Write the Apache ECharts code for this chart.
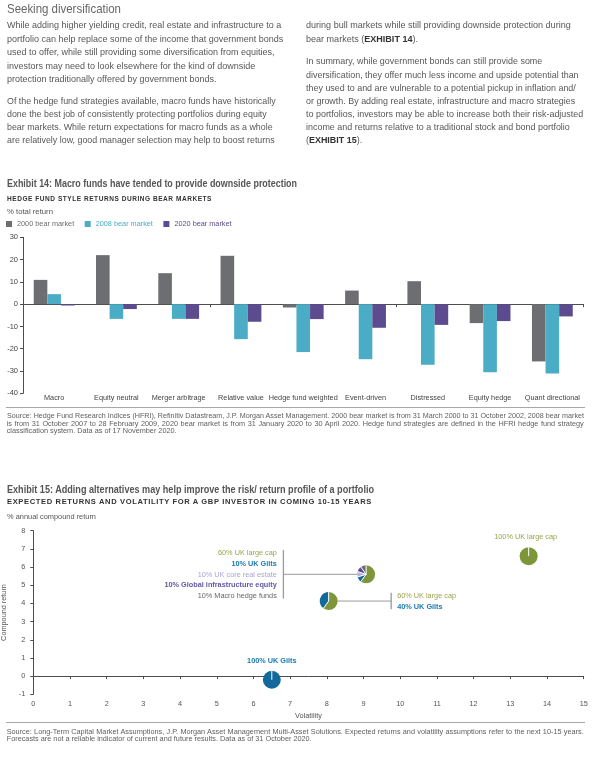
<!DOCTYPE html>
<html>
<head>
<meta charset="utf-8">
<script src="https://cdn.jsdelivr.net/npm/echarts@6/dist/echarts.min.js"></script>
<style>
html,body{margin:0;padding:0;background:#fff;}
body{width:602px;height:759px;position:relative;overflow:hidden;font-family:'Liberation Sans',Arial,sans-serif;}
#chart{position:absolute;left:0;top:0;width:602px;height:759px;z-index:1;}
.t{position:absolute;white-space:nowrap;z-index:2;}
.t span{display:inline-block;transform-origin:0 50%;white-space:nowrap;}
.rule{position:absolute;left:6px;width:579px;height:1.5px;background:#a8a8a8;z-index:2;}
</style>
</head>
<body>
<div id="chart"></div>
<div class="rule" style="top:406.6px"></div>
<div class="rule" style="top:721.8px"></div>
<script>
// ---------- DATA: Exhibit 14 ----------
const categories = ['Macro','Equity neutral','Merger arbitrage','Relative value','Hedge fund weighted','Event-driven','Distressed','Equity hedge','Quant directional'];
const seriesNames = ['2000 bear market','2008 bear market','2020 bear market'];
const bear2000 = [10.9, 22.0, 13.9, 21.7, -1.5, 6.1, 10.3, -8.5, -25.7];
const bear2008 = [4.5, -6.6, -6.6, -15.7, -21.5, -24.7, -27.2, -30.5, -31.1];
const bear2020 = [-0.6, -2.2, -6.6, -7.9, -6.7, -10.6, -9.3, -7.6, -5.5];

// ---------- DATA: Exhibit 15 ----------
const portfolios = ['100% UK Gilts','100% UK large cap','60/40 portfolio','Diversified portfolio'];
const volatility = [6.5, 13.5, 8.05, 9.07];
const compoundReturn = [-0.2, 6.6, 4.13, 5.6];
const assetClasses = ['UK large cap','UK Gilts','UK core real estate','Global infrastructure equity','Macro hedge funds'];
const wUKLargeCap = [0, 100, 60, 60];
const wUKGilts = [100, 0, 40, 10];
const wRealEstate = [0, 0, 0, 10];
const wInfra = [0, 0, 0, 10];
const wMacroHF = [0, 0, 0, 10];

// ---------- STYLE ----------
const FONT = "'Liberation Sans',Arial,sans-serif";
const barColors = ['#6d6e71','#4bacc6','#5c4b8e'];
const assetColors = ['#7e9639','#12699b','#b8b2dd','#5a4a9b','#6d6e71'];
const assetTextColors = ['#9ba34a','#1b7ab3','#ada4d4','#6656a6','#666666'];
const assetTextWeight = ['normal','bold','normal','bold','normal'];
const annot = [
  {mode:'above', dx:0, dy:-19},
  {mode:'above', dx:-3, dy:-19},
  {mode:'right', bx:62.5, bh:8.3, tx:68.5, gap:11, oy:0.6},
  {mode:'left', bx:-82.7, bh:24.2, tx:-89.3, gap:10.85, oy:0.2}
];

// ---------- HTML TEXT ----------
function addText(lines, o){
  let f = null;
  lines.forEach((html, j) => {
    const d = document.createElement('div');
    d.className = 't';
    d.style.left = o.x + 'px';
    d.style.top = (o.y + j*o.lh - o.lh/2) + 'px';
    d.style.height = o.lh + 'px';
    d.style.lineHeight = o.lh + 'px';
    d.style.fontSize = o.size + 'px';
    d.style.color = o.color;
    if (o.weight) d.style.fontWeight = o.weight;
    if (o.ls) d.style.letterSpacing = o.ls + 'px';
    const s = document.createElement('span');
    s.innerHTML = html;
    d.appendChild(s);
    document.body.appendChild(d);
    const w = s.getBoundingClientRect().width;
    if (o.mode === 'scale') {
      if (f === null) f = o.refW / w;
      s.style.transform = 'scaleX(' + f + ')';
    } else if (o.mode === 'exact' || w > o.maxW) {
      s.style.transform = 'scaleX(' + (o.maxW / w) + ')';
    } else if (o.mode === 'justify' && j < lines.length - 1 && w < o.maxW - 1) {
      s.style.width = o.maxW + 'px';
      s.style.whiteSpace = 'normal';
      s.style.textAlign = 'justify';
      s.style.textAlignLast = 'justify';
    }
  });
}

const bodyCol = '#575757';
addText(['Seeking diversification'], {x:6.7, y:9, lh:16, size:13, color:'#666', maxW:114, mode:'exact'});
addText([
  'While adding higher yielding credit, real estate and infrastructure to a',
  'portfolio can help replace some of the income that government bonds',
  'used to offer, while still providing some diversification from equities,',
  'investors may need to look elsewhere for the kind of downside',
  'protection traditionally offered by government bonds.'
], {x:6.7, y:25, lh:13.4, size:9.8, color:bodyCol, refW:274.3, mode:'scale'});
addText([
  'Of the hedge fund strategies available, macro funds have historically',
  'done the best job of consistently protecting portfolios during equity',
  'bear markets. While return expectations for macro funds as a whole',
  'are relatively low, good manager selection may help to boost returns'
], {x:6.7, y:100.7, lh:13.1, size:9.8, color:bodyCol, refW:268.6, mode:'scale'});
addText([
  'during bull markets while still providing downside protection during',
  'bear markets (<b style="color:#333">EXHIBIT 14</b>).'
], {x:306, y:25, lh:13.5, size:9.8, color:bodyCol, refW:264.7, mode:'scale'});
addText([
  'In summary, while government bonds can still provide some',
  'diversification, they offer much less income and upside potential than',
  'they used to and are vulnerable to a potential pickup in inflation and/',
  'or growth. By adding real estate, infrastructure and macro strategies',
  'to portfolios, investors may be able to increase both their risk-adjusted',
  'income and returns relative to a traditional stock and bond portfolio',
  '(<b style="color:#333">EXHIBIT 15</b>).'
], {x:306, y:61, lh:13.17, size:9.8, color:bodyCol, refW:236.3, mode:'scale'});

addText(['Exhibit 14: Macro funds have tended to provide downside protection'], {x:6.7, y:182.7, lh:14, size:10.5, color:'#555', weight:'bold', maxW:290, mode:'exact'});
addText(['HEDGE FUND STYLE RETURNS DURING BEAR MARKETS'], {x:6.7, y:199.3, lh:10, size:7.3, color:'#333', weight:'bold', ls:0.6, maxW:205, mode:'exact'});
addText(['% total return'], {x:6.7, y:212.3, lh:10, size:7.5, color:'#555', maxW:46, mode:'exact'});

addText([
  'Source: Hedge Fund Research Indices (HFRI), Refinitiv Datastream, J.P. Morgan Asset Management. 2000 bear market is from 31 March 2000 to 31 October 2002, 2008 bear market',
  'is from 31 October 2007 to 28 February 2009, 2020 bear market is from 31 January 2020 to 30 April 2020. Hedge fund strategies are defined in the HFRI hedge fund strategy',
  'classification system. Data as of 17 November 2020.'
], {x:6.7, y:416, lh:7.2, size:7.3, color:'#5e5e5e', maxW:577, mode:'justify'});

addText(['Exhibit 15: Adding alternatives may help improve the risk/ return profile of a portfolio'], {x:6.7, y:488.7, lh:14, size:10.5, color:'#555', weight:'bold', maxW:367, mode:'exact'});
addText(['EXPECTED RETURNS AND VOLATILITY FOR A GBP INVESTOR IN COMING 10-15 YEARS'], {x:6.7, y:502.3, lh:10, size:7.3, color:'#333', weight:'bold', ls:0.6, maxW:365, mode:'exact'});
addText(['% annual compound return'], {x:6.7, y:517.3, lh:10, size:7.5, color:'#555', maxW:89, mode:'exact'});

addText([
  'Source: Long-Term Capital Market Assumptions, J.P. Morgan Asset Management Multi-Asset Solutions. Expected returns and volatility assumptions refer to the next 10-15 years.',
  'Forecasts are not a reliable indicator of current and future results. Data as of 31 October 2020.'
], {x:6.7, y:731.4, lh:7.3, size:7.3, color:'#5e5e5e', maxW:577, mode:'justify'});

// ---------- CHART ----------
const chart = echarts.init(document.getElementById('chart'), null, {renderer:'canvas'});
const axisCol = '#4d4d4d';
const labCol = '#444';

function renderPie(params, api){
  const i = params.dataIndex;
  const c = api.coord([api.value(0), api.value(1)]);
  const R = 9;
  const w = [api.value(2), api.value(3), api.value(4), api.value(5), api.value(6)];
  const ch = [];
  const bounds = [];
  let acc = 0;
  w.forEach((v, k) => {
    if (v > 0) {
      const s = -Math.PI/2 + acc/100*2*Math.PI;
      const e = s + v/100*2*Math.PI;
      ch.push({type:'sector', shape:{cx:c[0], cy:c[1], r:R, r0:0, startAngle:s, endAngle:e, clockwise:true}, style:{fill:assetColors[k]}});
      bounds.push(s);
      acc += v;
    }
  });
  bounds.forEach(a => ch.push({type:'line', shape:{x1:c[0], y1:c[1], x2:c[0]+R*Math.cos(a), y2:c[1]+R*Math.sin(a)}, style:{stroke:'#fff', lineWidth:1}}));
  const lines = [];
  w.forEach((v, k) => { if (v > 0) lines.push({text: v + '% ' + assetClasses[k], k:k}); });
  const a = annot[i];
  const txt = (l, x, y, align) => ({type:'text', x:x, y:y, style:{text:l.text, fill:assetTextColors[l.k], fontSize:7.3, fontFamily:FONT, fontWeight:assetTextWeight[l.k], align:align, verticalAlign:'middle'}});
  if (a.mode === 'above') {
    lines.forEach(l => ch.push(txt(l, c[0]+a.dx, c[1]+a.dy, 'center')));
  } else {
    const dir = a.mode === 'right' ? 1 : -1;
    const n = lines.length;
    ch.push({type:'line', shape:{x1:c[0]+dir*R, y1:c[1], x2:c[0]+a.bx, y2:c[1]}, style:{stroke:'#9a9a9a', lineWidth:1}});
    ch.push({type:'line', shape:{x1:c[0]+a.bx, y1:c[1]-a.bh, x2:c[0]+a.bx, y2:c[1]+a.bh}, style:{stroke:'#9a9a9a', lineWidth:1.3}});
    lines.forEach((l, j) => ch.push(txt(l, c[0]+a.tx, c[1]+a.oy+(j-(n-1)/2)*a.gap, dir > 0 ? 'left' : 'right')));
  }
  return {type:'group', children:ch};
}

const pieData = portfolios.map((p, i) => ({name:p, value:[volatility[i], compoundReturn[i], wUKLargeCap[i], wUKGilts[i], wRealEstate[i], wInfra[i], wMacroHF[i]]}));

const option = {
  animation:false,
  textStyle:{fontFamily:FONT},
  legend:{
    left:6, top:220.5, padding:0, itemWidth:6, itemHeight:6, itemGap:10.5, icon:'rect', selectedMode:false,
    textStyle:{fontSize:7.3, fontFamily:FONT},
    data: seriesNames.map((n, k) => ({name:n, textStyle:{color:barColors[k]}}))
  },
  grid:[
    {left:23, top:237.3, width:560.5, height:156, containLabel:false, outerBoundsMode:'none'},
    {left:33.3, top:530.7, width:550.4, height:163.6, containLabel:false, outerBoundsMode:'none'}
  ],
  xAxis:[
    {type:'category', gridIndex:0, data:categories, boundaryGap:true,
     axisLine:{show:true, onZero:true, lineStyle:{color:axisCol, width:1}},
     axisTick:{show:true, length:3, lineStyle:{color:axisCol}},
     axisLabel:{show:false}, splitLine:{show:false}},
    {type:'category', gridIndex:0, data:categories, position:'bottom', boundaryGap:true,
     axisLine:{show:false, onZero:false}, axisTick:{show:false},
     axisLabel:{show:true, interval:0, margin:1, fontSize:7.3, color:labCol, fontFamily:FONT}, splitLine:{show:false}},
    {type:'value', gridIndex:1, min:0, max:15, interval:1,
     axisLine:{show:true, onZero:true, lineStyle:{color:axisCol, width:1}},
     axisTick:{show:true, length:3, lineStyle:{color:axisCol}},
     axisLabel:{show:false}, splitLine:{show:false}},
    {type:'value', gridIndex:1, min:0, max:15, interval:1, position:'bottom',
     axisLine:{show:false, onZero:false}, axisTick:{show:false},
     axisLabel:{show:true, margin:6, fontSize:7.3, color:'#555', fontFamily:FONT}, splitLine:{show:false},
     name:'Volatility', nameLocation:'middle', nameGap:18, nameTextStyle:{fontSize:7.3, color:'#555', fontFamily:FONT}}
  ],
  yAxis:[
    {type:'value', gridIndex:0, min:-40, max:30, interval:10,
     axisLine:{show:true, lineStyle:{color:axisCol, width:1}},
     axisTick:{show:true, length:3, lineStyle:{color:axisCol}},
     axisLabel:{margin:5, fontSize:7.5, color:labCol, fontFamily:FONT}, splitLine:{show:false}},
    {type:'value', gridIndex:1, min:-1, max:8, interval:1,
     axisLine:{show:true, lineStyle:{color:axisCol, width:1}},
     axisTick:{show:true, length:3, lineStyle:{color:axisCol}},
     axisLabel:{margin:8, fontSize:7.3, color:'#555', fontFamily:FONT}, splitLine:{show:false},
     name:'Compound return', nameLocation:'middle', nameGap:18.5, nameTextStyle:{fontSize:7.3, color:'#555', fontFamily:FONT}}
  ],
  series:[
    {name:seriesNames[0], type:'bar', xAxisIndex:0, yAxisIndex:0, data:bear2000, barWidth:13.6, barGap:'0%', itemStyle:{color:barColors[0]}},
    {name:seriesNames[1], type:'bar', xAxisIndex:0, yAxisIndex:0, data:bear2008, barWidth:13.6, barGap:'0%', itemStyle:{color:barColors[1]}},
    {name:seriesNames[2], type:'bar', xAxisIndex:0, yAxisIndex:0, data:bear2020, barWidth:13.6, barGap:'0%', itemStyle:{color:barColors[2]}},
    {name:'Portfolios', type:'custom', xAxisIndex:2, yAxisIndex:1, coordinateSystem:'cartesian2d', z:5, clip:false,
     encode:{x:0, y:1}, renderItem:renderPie, data:pieData}
  ]
};
chart.setOption(option);
</script>
</body>
</html>
